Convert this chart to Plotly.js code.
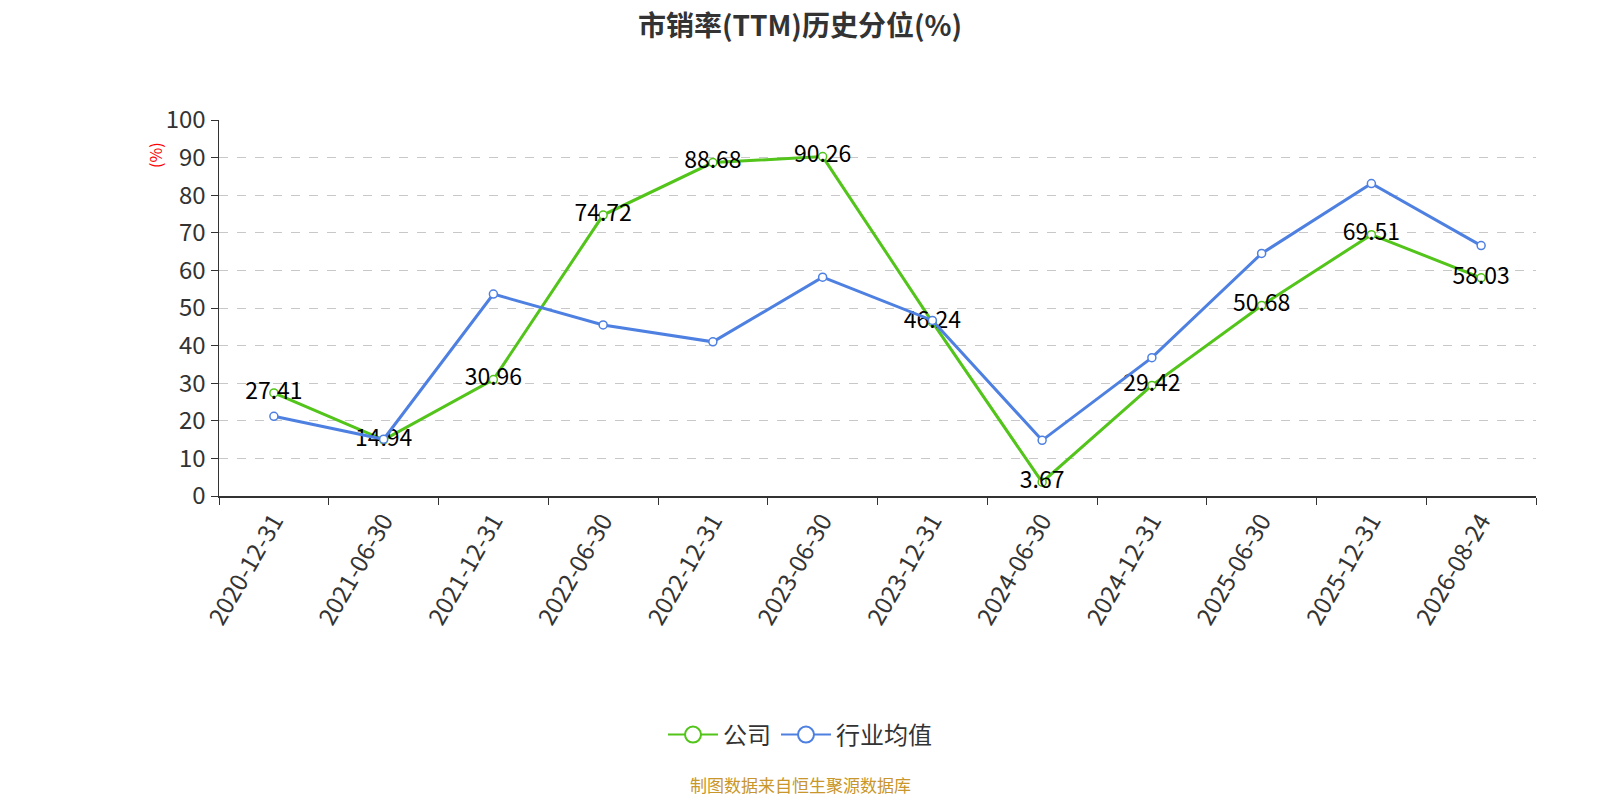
<!DOCTYPE html>
<html>
<head>
<meta charset="utf-8">
<script src="https://cdn.plot.ly/plotly-3.0.1.min.js"></script>
<style>
  html, body { margin: 0; padding: 0; background: #fff; }
  #chart { width: 1600px; height: 800px; }
</style>
</head>
<body>
<div id="chart"></div>
<script>
// dates on the x axis
var dates = ["2020-12-31", "2021-06-30", "2021-12-31", "2022-06-30", "2022-12-31", "2023-06-30",
             "2023-12-31", "2024-06-30", "2024-12-31", "2025-06-30", "2025-12-31", "2026-08-24"];
// company percentile
var company = [27.41, 14.94, 30.96, 74.72, 88.68, 90.26, 46.24, 3.67, 29.42, 50.68, 69.51, 58.03];
// industry average percentile
var industry = [21.2, 15.1, 53.7, 45.5, 41.0, 58.2, 46.7, 14.8, 36.8, 64.5, 83.1, 66.6];

var green = "#52c41a";
var blue = "#4e80e2";
var font = "Noto Sans CJK SC, Noto Sans, sans-serif";

var trace1 = {
  x: dates,
  y: company,
  name: "公司",
  legendgroup: "a",
  showlegend: false,
  type: "scatter",
  mode: "lines+markers+text",
  text: company.map(function (v) { return v.toFixed(2); }),
  textposition: "middle center",
  textfont: { size: 23, color: "#000", family: font },
  line: { color: green, width: 3 },
  marker: { symbol: "circle", size: 8, color: "#fff", line: { color: green, width: 1.5 } },
  cliponaxis: false
};

var trace2 = {
  x: dates,
  y: industry,
  name: "行业均值",
  legendgroup: "b",
  showlegend: false,
  type: "scatter",
  mode: "lines+markers",
  line: { color: blue, width: 3 },
  marker: { symbol: "circle", size: 8, color: "#fff", line: { color: blue, width: 1.5 } },
  cliponaxis: false
};

// legend-only entries with bigger symbols
function legendEntry(name, color, group) {
  return {
    x: [dates[0]], y: [null], name: name, legendgroup: group,
    type: "scatter", mode: "lines+markers",
    line: { color: color, width: 2 },
    marker: { symbol: "circle", size: 22, color: "#fff", line: { color: color, width: 2 } }
  };
}

var layout = {
  width: 1600,
  height: 800,
  paper_bgcolor: "#fff",
  plot_bgcolor: "#fff",
  font: { family: font, color: "#333" },
  margin: { l: 219, r: 64, t: 120, b: 304 },
  title: {
    text: "<b>市销率(TTM)历史分位(%)</b>",
    x: 0.5, xanchor: "center",
    y: 1 - 26 / 800, yanchor: "middle",
    font: { size: 28, color: "#333", family: font }
  },
  xaxis: {
    type: "category",
    range: [-0.5, 11.5],
    tickson: "boundaries",
    ticks: "outside",
    ticklen: 7,
    tickcolor: "#333",
    showline: true,
    linecolor: "#333",
    linewidth: 1.5,
    showgrid: false,
    tickangle: -60,
    tickfont: { size: 24, color: "#333", family: font },
    fixedrange: true
  },
  yaxis: {
    range: [0, 100],
    dtick: 10,
    ticks: "outside",
    ticklen: 7,
    tickcolor: "#333",
    showline: true,
    linecolor: "#333",
    linewidth: 1.5,
    showgrid: true,
    gridcolor: "#c8c8c8",
    griddash: "dash",
    gridwidth: 1,
    zeroline: false,
    tickfont: { size: 24, color: "#333", family: font },
    fixedrange: true
  },
  showlegend: true,
  legend: {
    orientation: "h",
    xref: "container",
    x: 0.5, xanchor: "center",
    yref: "container",
    y: 1 - 735 / 800, yanchor: "middle",
    font: { size: 24, color: "#333", family: font },
    itemwidth: 50
  },
  annotations: [
    {
      text: "(%)",
      xref: "paper", yref: "paper",
      x: -64 / 1317, y: (496 - 155) / 376,
      xanchor: "center", yanchor: "middle",
      textangle: -90,
      showarrow: false,
      font: { size: 16, color: "red", family: font }
    },
    {
      text: "制图数据来自恒生聚源数据库",
      xref: "paper", yref: "paper",
      x: (800 - 219) / 1317, y: (496 - 784) / 376,
      xanchor: "center", yanchor: "middle",
      showarrow: false,
      font: { size: 17, color: "#c8962a", family: font }
    }
  ]
};

Plotly.newPlot("chart", [trace1, trace2, legendEntry("公司", green, "a"), legendEntry("行业均值", blue, "b")],
  layout, { displayModeBar: false, staticPlot: true });
</script>
</body>
</html>
